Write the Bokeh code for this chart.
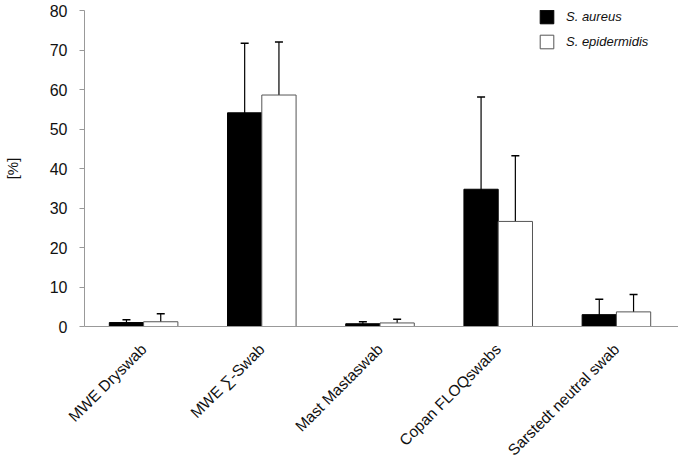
import math
from bokeh.plotting import figure
from bokeh.models import (Range1d, FixedTicker, Whisker, ColumnDataSource, Legend, LegendItem, TeeHead)
from bokeh.embed import file_html
from bokeh.resources import INLINE

categories = ["MWE Dryswab", "MWE \u2211-Swab", "Mast Mastaswab", "Copan FLOQswabs", "Sarstedt neutral swab"]
aureus_mean = [1.0, 54.1, 0.7, 34.75, 3.0]
aureus_err = [0.7, 17.6, 0.5, 23.35, 3.9]
epider_mean = [1.2, 58.6, 0.9, 26.6, 3.7]
epider_err = [2.0, 13.4, 0.95, 16.6, 4.4]
y_ticks = [0, 10, 20, 30, 40, 50, 60, 70, 80]

FONT = "Liberation Sans"
bar_w = 0.29
idx = list(range(len(categories)))

W, H = 678, 467
LEFT, TOP, BOTTOM = 80, 10, 140
p = figure(width=W, height=H, output_backend="svg", toolbar_location=None,
           x_range=Range1d(-0.5, -0.5 + (W - LEFT) / 119), y_range=Range1d(0, 80),
           min_border_left=LEFT, min_border_right=0, min_border_top=TOP, min_border_bottom=BOTTOM)
p.outline_line_color = None
p.grid.grid_line_color = None
p.background_fill_color = "white"

src_a = ColumnDataSource(dict(x=[i - bar_w / 2 for i in idx], top=aureus_mean,
                              lo=[m - e for m, e in zip(aureus_mean, aureus_err)],
                              hi=[m + e for m, e in zip(aureus_mean, aureus_err)]))
src_e = ColumnDataSource(dict(x=[i + bar_w / 2 for i in idx], top=epider_mean,
                              lo=[m - e for m, e in zip(epider_mean, epider_err)],
                              hi=[m + e for m, e in zip(epider_mean, epider_err)]))

ra = p.vbar(x="x", top="top", width=bar_w, source=src_a, fill_color="black", line_color="black", line_width=1)
re = p.vbar(x="x", top="top", width=bar_w, source=src_e, fill_color="white", line_color="#555555", line_width=1)

for src in (src_a, src_e):
    w = Whisker(source=src, base="x", lower="lo", upper="hi", line_color="black", line_width=1.2,
                upper_head=TeeHead(size=8, line_color="black", line_width=1.5),
                lower_head=TeeHead(size=8, line_color="black", line_width=1.5))
    p.add_layout(w)

# axes
p.yaxis.ticker = FixedTicker(ticks=y_ticks)
p.yaxis.axis_line_color = "#999999"
p.yaxis.major_tick_line_color = "#999999"
p.yaxis.major_tick_out = 5
p.yaxis.major_tick_in = 0
p.yaxis.minor_tick_line_color = None
p.yaxis.major_label_text_font = FONT
p.yaxis.major_label_text_font_size = "16px"
p.yaxis.major_label_text_color = "#111111"
p.yaxis.major_label_standoff = 12
p.yaxis.axis_label = "[%]"
p.yaxis.axis_label_text_font = FONT
p.yaxis.axis_label_text_font_style = "normal"
p.yaxis.axis_label_text_font_size = "15px"
p.yaxis.axis_label_text_color = "#111111"
p.yaxis.axis_label_standoff = 26

p.xaxis.ticker = FixedTicker(ticks=idx)
p.xaxis.major_label_overrides = {i: c for i, c in zip(idx, categories)}
p.xaxis.major_label_orientation = math.pi / 4
p.xaxis.axis_line_color = "#999999"
p.xaxis.major_tick_line_color = None
p.xaxis.minor_tick_line_color = None
p.xaxis.major_label_text_font = FONT
p.xaxis.major_label_text_font_size = "15.5px"
p.xaxis.major_label_text_color = "#111111"
p.xaxis.major_label_standoff = 14

legend = Legend(items=[LegendItem(label="S. aureus", renderers=[ra]),
                       LegendItem(label="S. epidermidis", renderers=[re])],
                location=(454, 276), orientation="vertical",
                glyph_width=17, glyph_height=17, spacing=8, label_standoff=11,
                padding=0, margin=0, border_line_color=None, background_fill_alpha=0,
                label_text_font=FONT, label_text_font_size="13px", label_text_font_style="italic",
                label_text_color="#111111")
p.add_layout(legend)

open("out.html", "w").write(file_html(p, INLINE))
